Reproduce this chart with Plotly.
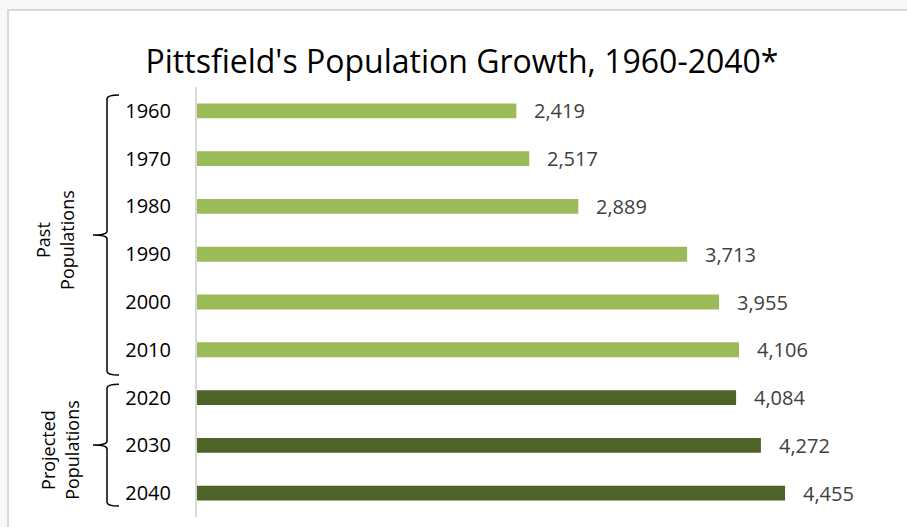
import plotly.graph_objects as go

years = ["1960", "1970", "1980", "1990", "2000", "2010", "2020", "2030", "2040"]
population = [2419, 2517, 2889, 3713, 3955, 4106, 4084, 4272, 4455]
group = ["past", "past", "past", "past", "past", "past", "proj", "proj", "proj"]
group_titles = {"past": "Past<br>Populations", "proj": "Projected<br>Populations"}
title_text = "Pittsfield's Population Growth, 1960-2040*"

COL = {"past": "#9BBB59", "proj": "#4F6228"}
FONT = "'Open Sans', Lato, sans-serif"

W, H = 907, 527
ML, MR, MT, MB = 197, 50, 87, 10
PW = W - ML - MR
PH = H - MT - MB

def px_to_paper_x(px):
    return (px - ML) / PW

def px_to_paper_y(py):
    return (H - MB - py) / PH

idx = list(range(len(years)))

fig = go.Figure()
for g in ["past", "proj"]:
    ys = [i for i in idx if group[i] == g]
    xs = [population[i] for i in ys]
    fig.add_trace(go.Bar(
        x=xs, y=ys, orientation="h", width=0.31,
        marker=dict(color=COL[g], line=dict(width=0)),
        hoverinfo="skip", showlegend=False,
    ))

annotations = []
for i in idx:
    annotations.append(dict(
        x=population[i], y=i, xref="x", yref="y", text=f"{population[i]:,}",
        showarrow=False, xanchor="left", yanchor="middle", xshift=16,
        font=dict(family=FONT, size=20, color="#404040"),
    ))

shapes = [
    dict(type="rect", xref="paper", yref="paper",
         x0=px_to_paper_x(8), x1=px_to_paper_x(1000),
         y0=px_to_paper_y(10), y1=px_to_paper_y(560),
         fillcolor="white", line=dict(color="#D9D9D9", width=2), layer="below"),
]

# brackets for groups
xv, xh, xt = px_to_paper_x(107), px_to_paper_x(119), px_to_paper_x(93)
label_px = {"past": 55, "proj": 60}
for g, (ext_top, ext_bot) in {"past": (0.33, 0.53), "proj": (0.28, 0.27)}.items():
    gi = [i for i in idx if group[i] == g]
    yt = gi[0] - ext_top
    yb = gi[-1] + ext_bot
    ym = (yt + yb) / 2
    c = 0.08
    path = (f"M {xh},{yt} Q {xv},{yt} {xv},{yt + c} "
            f"L {xv},{ym - c} Q {xv},{ym} {xt},{ym} "
            f"Q {xv},{ym} {xv},{ym + c} "
            f"L {xv},{yb - c} Q {xv},{yb} {xh},{yb}")
    shapes.append(dict(type="path", xref="paper", yref="y", path=path,
                       line=dict(color="black", width=1.5)))
    annotations.append(dict(
        x=px_to_paper_x(label_px[g]), y=ym + 0.1, xref="paper", yref="y",
        text=group_titles[g], showarrow=False, textangle=-90,
        xanchor="center", yanchor="middle", align="center",
        font=dict(family=FONT, size=18, color="black"),
    ))

fig.update_layout(
    width=W, height=H,
    margin=dict(l=ML, r=MR, t=MT, b=MB),
    paper_bgcolor="#F8F8F8", plot_bgcolor="white",
    title=dict(text=title_text, x=462 / W, xanchor="center",
               y=1 - 62 / H, yanchor="middle", yref="container",
               font=dict(family=FONT, size=32, color="black")),
    barmode="overlay",
    xaxis=dict(range=[0, 5000], showgrid=False, zeroline=False,
               showticklabels=False, showline=False, fixedrange=True),
    yaxis=dict(range=[len(years) - 0.5, -0.5], tickmode="array",
               tickvals=idx, ticktext=years, showgrid=False, zeroline=False,
               showline=True, linecolor="#D9D9D9", linewidth=2,
               ticks="", ticklabelstandoff=20, fixedrange=True,
               tickfont=dict(family=FONT, size=20, color="black")),
    shapes=shapes,
    annotations=annotations,
)

fig.write_html("out.html", config={"displayModeBar": False},
               post_script="document.body.style.margin='0';document.body.style.overflow='hidden';")
